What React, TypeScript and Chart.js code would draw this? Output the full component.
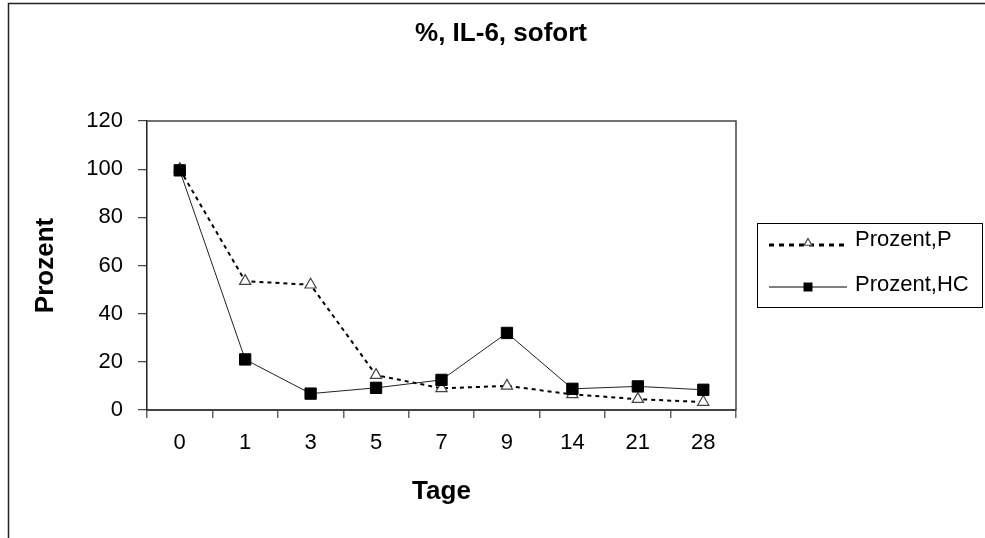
import React, { useEffect, useRef } from "react";
import { Chart, registerables } from "chart.js";

Chart.register(...registerables);

const categories = ["0", "1", "3", "5", "7", "9", "14", "21", "28"];
const prozentP = [100, 53.5, 52, 14.5, 9, 10, 6.5, 4.5, 3.3];
const prozentHC = [99.5, 21, 6.8, 9.2, 12.5, 32, 8.8, 9.8, 8.4];
const seriesNames = ["Prozent,P", "Prozent,HC"];
const titleText = "%, IL-6, sofort";
const xTitle = "Tage";
const yTitle = "Prozent";
const yMin = 0;
const yMax = 120;
const yStep = 20;

const FONT = '"Liberation Sans", Arial, sans-serif';

const decorPlugin = {
  id: "decor",
  beforeDraw(chart: any) {
    const ctx = chart.ctx;
    ctx.save();
    ctx.fillStyle = "#fff";
    ctx.fillRect(0, 0, chart.width, chart.height);
    // outer frame (top + left)
    ctx.strokeStyle = "#222";
    ctx.lineWidth = 1.5;
    ctx.beginPath();
    ctx.moveTo(8.5, chart.height);
    ctx.lineTo(8.5, 3.5);
    ctx.lineTo(chart.width, 3.5);
    ctx.stroke();
    // title
    ctx.fillStyle = "#000";
    ctx.font = `bold 26px ${FONT}`;
    ctx.textAlign = "center";
    ctx.textBaseline = "middle";
    ctx.fillText(titleText, 501, 34);
    ctx.restore();
  },
  afterDraw(chart: any) {
    const ctx = chart.ctx;
    const a = chart.chartArea;
    ctx.save();
    // plot box top and right
    ctx.strokeStyle = "#444";
    ctx.lineWidth = 1.5;
    ctx.beginPath();
    ctx.moveTo(a.left, a.top);
    ctx.lineTo(a.right, a.top);
    ctx.lineTo(a.right, a.bottom);
    ctx.stroke();

    // legend
    const bx = 757.5, by = 223.5, bw = 225, bh = 84;
    ctx.strokeStyle = "#000";
    ctx.lineWidth = 1;
    ctx.strokeRect(bx, by, bw, bh);
    const rows = [243, 287];
    const x0 = 769, x1 = 847, mx = 808;
    // P entry
    ctx.strokeStyle = "#000";
    ctx.lineWidth = 3;
    ctx.setLineDash([5, 5]);
    ctx.beginPath();
    ctx.moveTo(x0, rows[0] + 2);
    ctx.lineTo(x1, rows[0] + 2);
    ctx.stroke();
    ctx.setLineDash([]);
    ctx.fillStyle = "#fff";
    ctx.strokeStyle = "#444";
    ctx.lineWidth = 1.2;
    const r = 4.5;
    ctx.beginPath();
    ctx.moveTo(mx, rows[0] - r);
    ctx.lineTo(mx + r * 0.866, rows[0] + r * 0.5);
    ctx.lineTo(mx - r * 0.866, rows[0] + r * 0.5);
    ctx.closePath();
    ctx.fill();
    ctx.stroke();
    // HC entry
    ctx.strokeStyle = "#808080";
    ctx.lineWidth = 2;
    ctx.beginPath();
    ctx.moveTo(x0, rows[1]);
    ctx.lineTo(x1, rows[1]);
    ctx.stroke();
    ctx.fillStyle = "#000";
    ctx.fillRect(mx - 4.5, rows[1] - 4.5, 9, 9);
    // legend text
    ctx.fillStyle = "#000";
    ctx.font = `22px ${FONT}`;
    ctx.textAlign = "left";
    ctx.textBaseline = "middle";
    ctx.fillText(seriesNames[0], 855, rows[0] - 3);
    ctx.fillText(seriesNames[1], 855, rows[1] - 2);
    ctx.restore();
  },
};

export default function App() {
  const ref = useRef<HTMLCanvasElement | null>(null);
  useEffect(() => {
    document.body.style.margin = "0";
    if (!ref.current) return;
    const chart = new Chart(ref.current, {
      type: "line",
      data: {
        labels: categories,
        datasets: [
          {
            label: seriesNames[0],
            data: prozentP,
            order: 1,
            borderColor: "#000",
            borderWidth: 2,
            borderDash: [4, 4],
            pointStyle: "triangle",
            pointRadius: 6.5,
            pointBackgroundColor: "#fff",
            pointBorderColor: "#444",
            pointBorderWidth: 1.2,
            tension: 0,
            fill: false,
          },
          {
            label: seriesNames[1],
            data: prozentHC,
            order: 0,
            borderColor: "#222",
            borderWidth: 1,
            pointStyle: "rect",
            pointRadius: 8,
            pointBackgroundColor: "#000",
            pointBorderColor: "#000",
            pointBorderWidth: 1,
            tension: 0,
            fill: false,
          },
        ],
      },
      options: {
        responsive: false,
        animation: false,
        events: [],
        layout: { padding: { left: 0, top: 121, right: 249, bottom: 0 } },
        plugins: {
          legend: { display: false },
          title: { display: false },
          tooltip: { enabled: false },
        },
        scales: {
          x: {
            type: "category",
            offset: true,
            grid: {
              offset: true,
              drawOnChartArea: false,
              drawTicks: true,
              tickLength: 8,
              color: "#666",
              lineWidth: 1.5,
            },
            border: { color: "#444", width: 2 },
            ticks: {
              color: "#000",
              font: { family: FONT, size: 22 },
              padding: 12,
              maxRotation: 0,
              autoSkip: false,
            },
            title: {
              display: true,
              text: xTitle,
              color: "#000",
              font: { family: FONT, size: 26, weight: "bold" },
              padding: { top: 0, bottom: 31 },
            },
            afterFit(scale: any) {
              scale.height = 128;
            },
          },
          y: {
            min: yMin,
            max: yMax,
            grid: {
              drawOnChartArea: false,
              drawTicks: true,
              tickLength: 9,
              color: "#444",
              lineWidth: 1.2,
            },
            border: { color: "#222", width: 1.5 },
            ticks: {
              stepSize: yStep,
              color: "#000",
              font: { family: FONT, size: 22 },
              padding: 15,
            },
            title: {
              display: true,
              text: yTitle,
              color: "#000",
              font: { family: FONT, size: 26, weight: "bold" },
              padding: { top: 30, bottom: 0 },
            },
            afterFit(scale: any) {
              scale.width = 147;
            },
          },
        },
      },
      plugins: [decorPlugin],
    } as any);
    return () => chart.destroy();
  }, []);
  return (
    <div style={{ width: 985, height: 538 }}>
      <canvas ref={ref} width={985} height={538} style={{ display: "block" }} />
    </div>
  );
}
